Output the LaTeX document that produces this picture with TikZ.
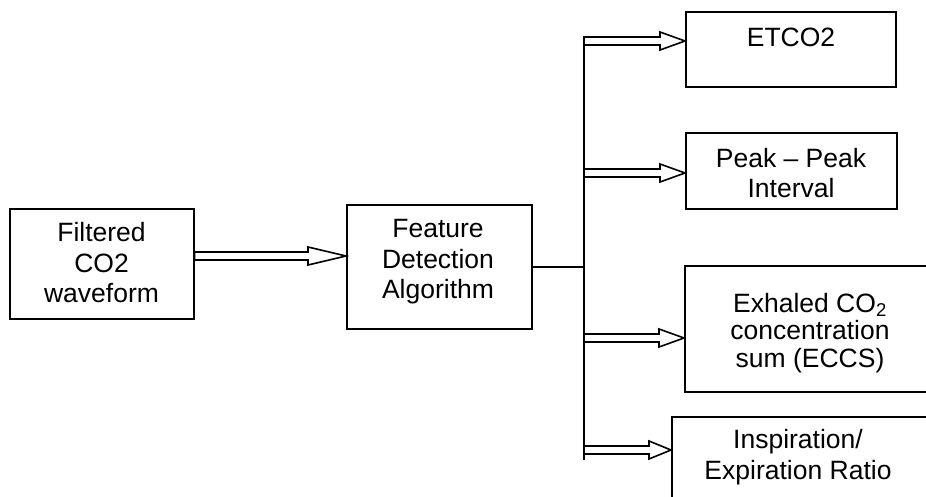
\documentclass[tikz,border=0pt]{standalone}
\usepackage{fontspec}
\setmainfont{Liberation Sans}
\usetikzlibrary{calc}
\tikzset{
  box/.style={draw, line width=1.6pt, inner sep=0pt, anchor=north west},
  lbl/.style={align=center, font=\fontsize{26.5}{30.5}\selectfont, inner sep=0pt},
  conn/.style={line width=1.6pt},
}
\newcommand{\dblarrow}[3]{%
  \draw[conn, fill=white, line join=miter] let \p1=(#1), \p2=(#2) in
   (\x1,\y2+4pt) -- (\x2-#3,\y2+4pt) -- (\x2-#3,\y2+9pt) -- (\x2,\y2) --
   (\x2-#3,\y2-9pt) -- (\x2-#3,\y2-4pt) -- (\x1,\y2-4pt) -- cycle;
}
\begin{document}
\begin{tikzpicture}[x=1pt,y=-1pt]
\useasboundingbox (0,0) rectangle (926,497);
\clip (0,0) rectangle (926,497);
\node[box, minimum width=184pt, minimum height=110pt] (filt) at (9,208) {};
\node[box, minimum width=185pt, minimum height=124pt] (feat) at (346,204) {};
\node[box, minimum width=210pt, minimum height=75pt] (etco) at (685,11) {};
\node[box, minimum width=211pt, minimum height=76pt] (peak) at (685,132) {};
\node[box, minimum width=252pt, minimum height=126pt] (eccs) at (684,265) {};
\node[box, minimum width=270pt, minimum height=100pt] (insp) at (671,416) {};
\coordinate (ya) at (0,256);
\coordinate (y1) at (0,41);
\coordinate (y2) at (0,173);
\coordinate (y3) at (0,338);
\coordinate (y4) at (0,450);
\coordinate (bustop) at (584,36);
\coordinate (busbot) at (584,460);
\coordinate (a1) at (feat.west |- ya);
\coordinate (b1) at (etco.west |- y1);
\coordinate (b2) at (peak.west |- y2);
\coordinate (b3) at (eccs.west |- y3);
\coordinate (b4) at (insp.west |- y4);
\dblarrow{filt.east}{a1}{38pt}
\dblarrow{bustop}{b1}{25pt}
\dblarrow{bustop}{b2}{25pt}
\dblarrow{bustop}{b3}{25pt}
\dblarrow{bustop}{b4}{22pt}
\draw[conn] (feat.east) -- (feat.east -| bustop);
\draw[conn] (bustop) -- (busbot);
\node[lbl] (tfilt) at (101.5,263) {Filtered\\CO2\\waveform};
\node[lbl] (tfeat) at (438,262) {Feature\\Detection\\Algorithm};
\node[lbl] (tetco) at (791,37) {ETCO2};
\node[lbl] (tpeak) at (791,173) {Peak – Peak\\Interval};
\node[lbl, font=\fontsize{26.5}{27.5}\selectfont] (teccs) at (810,333) {Exhaled CO\textsubscript{2}\\concentration\\sum (ECCS)};
\node[lbl] (tinsp) at (798,457) {Inspiration/\\Expiration Ratio};
\end{tikzpicture}
\end{document}
